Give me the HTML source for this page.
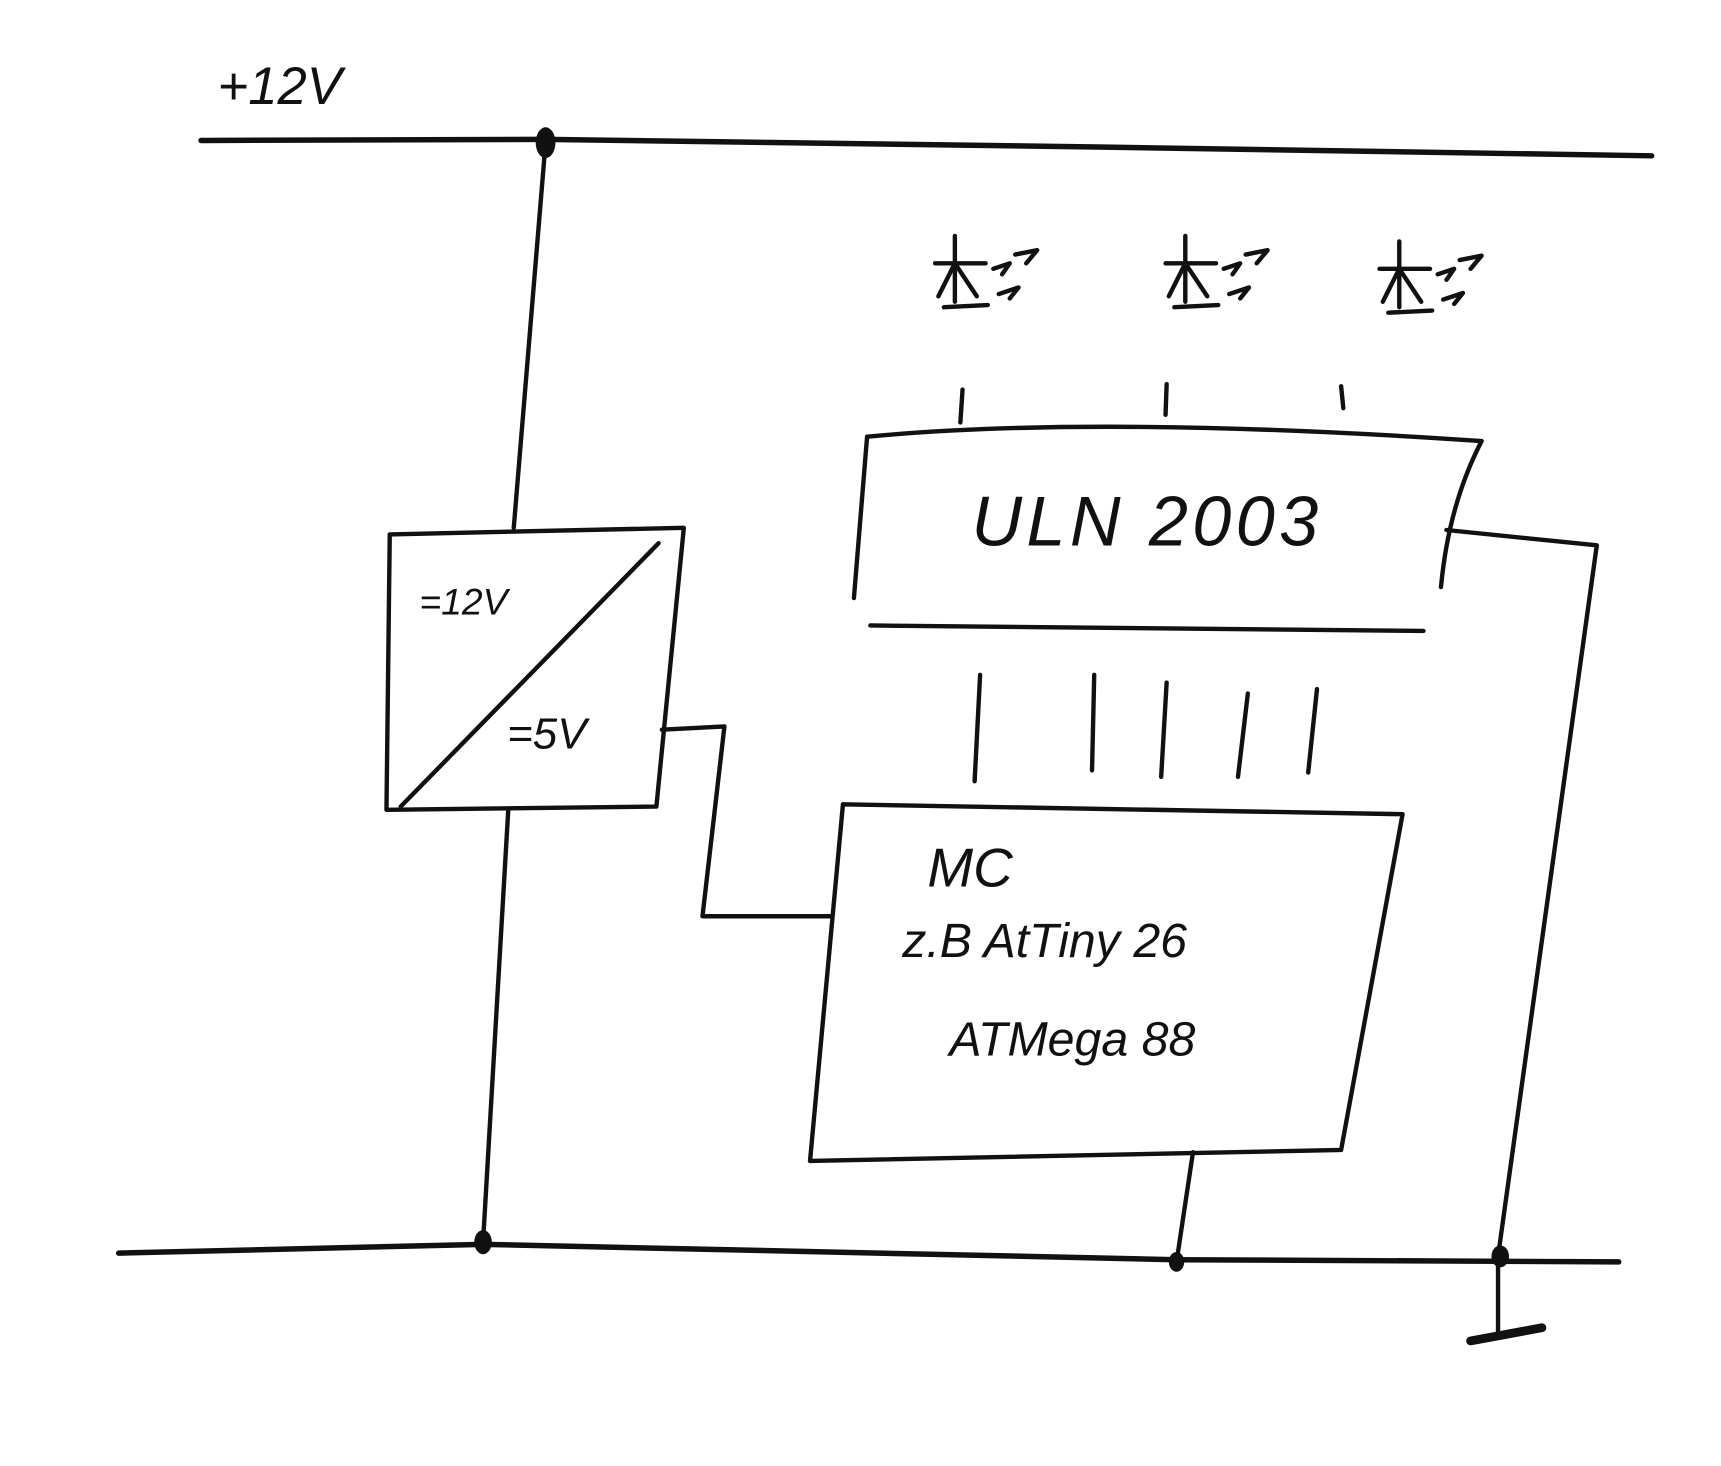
<!DOCTYPE html>
<html><head><meta charset="utf-8"><style>
html,body{margin:0;padding:0;background:#fff;}
svg{display:block}
text{font-family:"Liberation Sans",sans-serif;fill:#111;font-style:italic}
</style></head><body>
<svg width="1721" height="1466" viewBox="0 0 1568 1336" xmlns="http://www.w3.org/2000/svg">
<g fill="none" stroke="#111" stroke-width="4" stroke-linecap="round" stroke-linejoin="round">
<!-- rails -->
<path d="M183 128 L497 127 L1000 134 L1505 142" stroke-width="5"/>
<path d="M108 1142 L440 1134 L1072 1148 L1475 1150" stroke-width="5"/>
<!-- left vertical -->
<path d="M497 130 L468 481"/>
<path d="M463 738 L440 1132"/>
<!-- converter box -->
<path d="M355 487 L623 481 L598 735 L352 738 Z"/>
<path d="M365 735 L600 495"/>
<!-- 5V wire -->
<path d="M603 665 L660 662 L640 835 L757 835"/>
<!-- MC box -->
<path d="M768 733 L1278 742 L1222 1048 L738 1058 Z"/>
<path d="M1087 1050 L1072 1150"/>
<!-- ULN box -->
<path d="M790 398 Q1000 378 1350 402"/>
<path d="M790 398 L778 545"/>
<path d="M1350 402 Q1320 460 1313 535"/>
<path d="M793 570 L1297 575"/>
<!-- input strokes -->
<path d="M893 615 L888 712"/><path d="M997 615 L995 702"/><path d="M1063 622 L1058 708"/><path d="M1137 632 L1128 708"/><path d="M1200 628 L1192 704"/>
<!-- right wire and ground -->
<path d="M1318 483 L1455 497 L1365 1145 L1365 1218"/>
<path d="M1340 1222 L1405 1210" stroke-width="8"/>
<!-- LED ticks -->
<path d="M877 355 L875 385"/><path d="M1063 350 L1062 378"/><path d="M1222 352 L1224 372"/>
<!-- LED symbols -->
<g id="led">
<path d="M870 215 L870 275"/><path d="M852 240 L898 240"/><path d="M870 240 L855 270"/><path d="M870 240 L890 270"/><path d="M860 280 L900 278"/>
<path d="M905 245 L920 240 L913 250"/><path d="M910 268 L928 262 L920 272"/><path d="M925 232 L945 228 L935 240"/>
</g>
<use href="#led" transform="translate(210 0)"/>
<use href="#led" transform="translate(405 5)"/>
</g>
<!-- nodes -->
<g fill="#111"><ellipse cx="497" cy="130" rx="9" ry="14"/><ellipse cx="440" cy="1132" rx="8" ry="11"/><ellipse cx="1072" cy="1150" rx="7" ry="9"/><ellipse cx="1367" cy="1145" rx="8" ry="10"/></g>
<text x="198" y="95" font-size="48">+12V</text>
<text x="382" y="560" font-size="34">=12V</text>
<text x="462" y="682" font-size="40">=5V</text>
<text x="885" y="497" font-size="64" letter-spacing="4">ULN 2003</text>
<text x="845" y="808" font-size="50">MC</text>
<text x="822" y="872" font-size="44">z.B AtTiny 26</text>
<text x="865" y="962" font-size="44">ATMega 88</text>
</svg>
</body></html>
